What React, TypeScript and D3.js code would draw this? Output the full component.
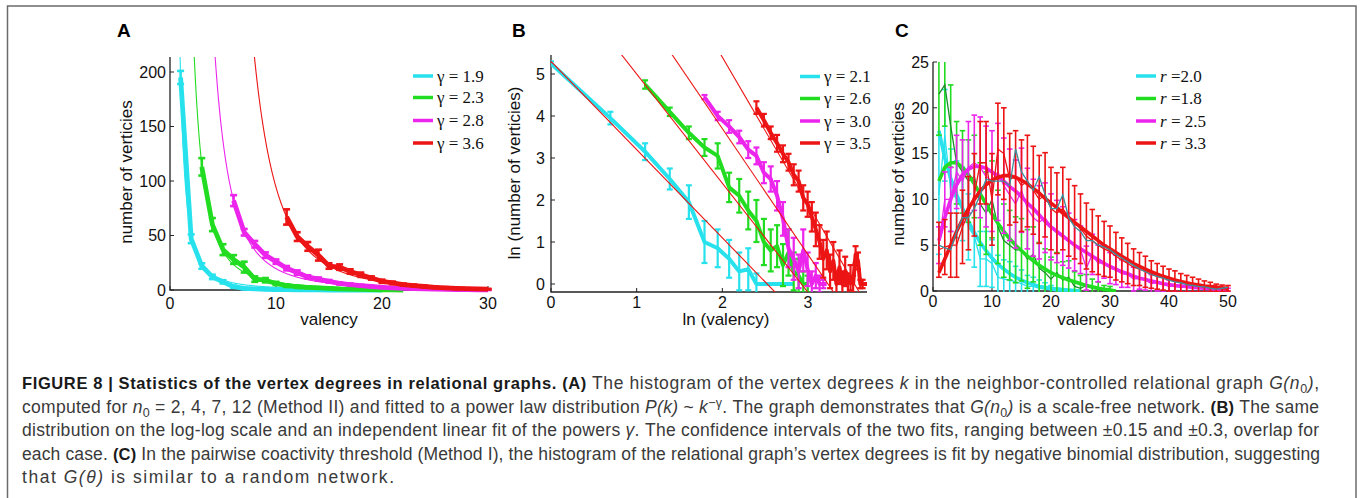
import React from "react";
import * as d3 from "d3";

// colours of the four series (MATLAB c, g, m, r)
const COLORS = ["#27e2ec", "#22dc22", "#ec25ec", "#ec1414"];
const DARK_GREEN = "#1e8c2a";
const TEAL = "#3b8f9c";

// ---------- panel A : histogram of vertex degrees ----------
const aGamma = [1.9, 2.3, 2.8, 3.6];
const aFitAmp = [195, 1437, 12366, 375400];
const aStart = [1, 3, 6, 11];
const aCyan = [195, 47, 22, 12, 7.5, 3, 1.5, 1, 0.6, 0.4, 0.3, 0.2, 0.1, 0.1, 0, 0, 0, 0, 0, 0];
const aCyanErr = [6, 4, 2.5, 2, 1.5, 1, 0.8, 0.5, 0.4, 0.3, 0.2, 0.2, 0.1, 0.1, 0, 0, 0, 0, 0, 0];
const aGreen = [113, 60, 37, 28, 21, 10, 9, 6, 4, 3, 2.5, 2, 1.5, 1, 0.8, 0.5, 0.3, 0.2, 0.1, 0];
const aGreenErr = [8, 6, 5, 4, 5, 2.5, 2, 1.5, 1.2, 1, 0.8, 0.6, 0.5, 0.4, 0.3, 0.2, 0.2, 0.1, 0.1, 0];
const aMagenta = [82, 53, 42, 32, 26, 20, 16, 12, 10, 8, 6, 5, 4, 3.2, 2.5, 2, 1.6, 1.2, 1, 0.8, 0.6, 0.4, 0.3, 0.2, 0.1];
const aMagentaErr = [5, 3, 3, 2.5, 2, 2, 2, 1.5, 1.5, 1.2, 1, 1, 0.8, 0.6, 0.5, 0.4, 0.4, 0.3, 0.3, 0.2, 0.2, 0.1, 0.1, 0.1, 0.1];
const aRed = [67, 49, 40, 32, 22, 21, 17, 14, 11, 8, 6.5, 5, 4, 3.2, 2.5, 2, 1.5, 1.2, 1, 0.8];
const aRedErr = [7, 4, 4, 5, 2.5, 2.5, 2, 2, 1.5, 1.5, 1.2, 1, 1, 0.8, 0.7, 0.6, 0.5, 0.4, 0.3, 0.3];
const aLegend = ["1.9", "2.3", "2.8", "3.6"];

// ---------- panel B : log-log ----------
const bGamma = [2.1, 2.6, 3.0, 3.5];
const bIntercept = [5.3, 7.6, 9.7, 12.4];
const bStart = [1, 3, 6, 11];
const bCyan = [5.25, 3.95, 3.15, 2.5, 1.95, 1.0, 0.85, 0.6, 0.3, 0.35, 0, 0, 0, 0, 0, 0, 0];
const bCyanErr = [0.05, 0.15, 0.2, 0.25, 0.4, 0.5, 0.45, 0.45, 0.45, 0.5, 0.25, 0, 0, 0, 0, 0, 0];
const bGreen = [4.75, 4.1, 3.6, 3.25, 3.05, 2.3, 2.1, 1.75, 1.5, 1.0, 0.8, 0.9, 0.45, 0.75, 0.3, 0.2, 0, 0];
const bGreenErr = [0.1, 0.1, 0.15, 0.2, 0.3, 0.35, 0.4, 0.45, 0.5, 0.55, 0.5, 0.5, 0.5, 0.55, 0.45, 0.4, 0.3, 0.2];
const bMagenta = [4.45, 4.0, 3.75, 3.5, 3.2, 3.05, 2.65, 2.5, 2.1, 1.55, 0.85, 0.6, 0.3, 0.8, 0.35, 0, 0.2, 0, 0, 0];
const bMagentaErr = [0.05, 0.1, 0.15, 0.15, 0.2, 0.2, 0.25, 0.3, 0.35, 0.4, 0.45, 0.5, 0.4, 0.5, 0.4, 0.3, 0.3, 0.2, 0.1, 0];
const bRed = [4.2, 3.9, 3.6, 3.35, 3.1, 2.9, 2.6, 2.45, 2.05, 1.9, 1.6, 1.3, 1.0, 0.6, 0.8, 0.3, 0.55, 0, 0.4, 0, 0.3, 0, 0.15, 0, 0.7, 0.55, 0, 0, 0, 0];
const bRedErr = [0.15, 0.15, 0.15, 0.2, 0.2, 0.2, 0.25, 0.25, 0.3, 0.3, 0.35, 0.4, 0.4, 0.45, 0.45, 0.4, 0.45, 0.3, 0.4, 0.3, 0.35, 0.25, 0.3, 0.2, 0.2, 0.2, 0.1, 0.1, 0, 0];
const bLegend = ["2.1", "2.6", "3.0", "3.5"];

// ---------- panel C : pairwise coactivity threshold ----------
const cCyanFit = [17.5, 14.5, 12.3, 10.5, 9.0, 7.6, 6.4, 5.3, 4.4, 3.6, 2.9, 2.4, 1.9, 1.5, 1.2, 0.9, 0.7, 0.5, 0.4, 0.3, 0.2, 0.15, 0.1, 0.05, 0];
const cCyan = [10.5, 17, 11, 10, 9.5, 7, 6, 3.5, 3.5, 3, 1.5, 1.3, 1.2, 1.0, 0.8, 0.5, 0.5, 0.3, 0.2, 0.1, 0, 0, 0, 0, 0];
const cCyanErr = [6.5, 5, 4.5, 4.2, 4, 3.6, 3.4, 3, 3, 2.6, 2.4, 2.1, 2, 1.7, 1.5, 1.2, 1, 0.9, 0.7, 0.5, 0.3, 0.2, 0.1, 0, 0];
const cGreenFit = [12, 13.5, 14, 14, 13.5, 12.7, 11.7, 10.6, 9.5, 8.4, 7.4, 6.5, 5.7, 5.0, 4.4, 3.8, 3.3, 2.8, 2.4, 2.0, 1.7, 1.45, 1.2, 1.0, 0.8, 0.6, 0.45, 0.3, 0.2, 0.1, 0];
const cGreen = [21.5, 22.5, 18, 14, 13, 12, 12.5, 9.5, 8.5, 10, 7, 5.5, 5, 4.5, 4.5, 3.5, 4, 2.5, 2, 1.3, 2, 1.2, 1.5, 0.5, 0.3, 0.6, 0.3, 0.2, 0, 0, 0];
const cGreenErr = [4.5, 4.5, 4.5, 4.5, 4.5, 4.5, 4.5, 4.5, 4.5, 4.2, 4, 4, 3.8, 3.6, 3.4, 3.2, 3, 2.8, 2.6, 2.4, 2.2, 2, 1.8, 1.6, 1.4, 1.2, 1.0, 0.8, 0.6, 0.5, 0];
const cMagentaFit = [5.5, 8, 10, 11.6, 12.7, 13.3, 13.6, 13.6, 13.4, 13.0, 12.5, 12.0, 11.4, 10.9, 10.3, 9.6, 9.0, 8.3, 7.6, 7.0, 6.5, 6.0, 5.5, 5.0, 4.6, 4.2, 3.8, 3.4, 3.0, 2.7, 2.4, 2.1, 1.9, 1.6, 1.4, 1.25, 1.1, 0.95, 0.8, 0.7, 0.6, 0.55, 0.5, 0.4, 0.35, 0.3, 0.25, 0.2, 0.18, 0.15];
const cMagenta = [5, 10, 10, 13, 12, 13.5, 14, 13.5, 12.5, 12, 13, 11.5, 10.5, 9.5, 11, 9, 8, 7.5, 8, 7, 6.5, 6, 5.5, 5, 4.5, 2.5, 4, 3, 3.2, 2.5, 2.3, 1.9, 1.8, 1.3, 1.4, 1.2, 0.8, 0.9, 0.7, 0.5, 0.5, 0.4, 0.4, 0.3, 0.3, 0.2, 0.2, 0.15, 0.1, 0.1];
const cMagentaErr = [2, 3, 3.5, 4, 4.5, 5, 5.2, 5.5, 5.5, 5.5, 5.3, 5.2, 5, 4.8, 4.6, 4.4, 4.2, 4, 3.8, 3.6, 3.4, 3.2, 3, 2.8, 2.6, 2.4, 2.2, 2, 1.8, 1.7, 1.6, 1.5, 1.4, 1.3, 1.2, 1.1, 1, 0.9, 0.8, 0.7, 0.6, 0.55, 0.5, 0.45, 0.4, 0.35, 0.3, 0.25, 0.2, 0.2];
const cRedFit = [2, 3.5, 5, 6.5, 7.8, 9, 10, 10.9, 11.6, 12.1, 12.4, 12.6, 12.6, 12.4, 12.1, 11.7, 11.2, 10.7, 10.1, 9.6, 9.1, 8.5, 8.0, 7.5, 7.0, 6.5, 6.0, 5.5, 5.0, 4.6, 4.2, 3.8, 3.4, 3.0, 2.7, 2.4, 2.1, 1.85, 1.6, 1.4, 1.2, 1.05, 0.9, 0.75, 0.65, 0.55, 0.48, 0.42, 0.36, 0.3];
const cRed = [4.5, 4.8, 5, 5, 7, 8.5, 10.5, 14, 14, 10, 15.5, 15, 12.2, 12.5, 11.5, 12, 11, 10, 10.5, 9, 8.5, 9, 8, 7.5, 6.8, 6, 5.5, 5, 4.6, 4.3, 3.8, 3.4, 3.0, 2.6, 2.4, 2.1, 1.8, 1.6, 1.4, 1.2, 1.1, 0.9, 0.8, 0.7, 0.6, 0.5, 0.45, 0.35, 0.3, 0.3];
const cRedErr = [3, 3, 3.5, 3.5, 4, 4, 4.5, 4.5, 4.5, 5, 5, 5, 5, 5, 5, 5, 4.8, 4.8, 4.6, 4.5, 4.4, 4.5, 4.2, 4, 3.8, 3.6, 3.4, 3.2, 3.0, 2.8, 2.6, 2.4, 2.2, 2, 1.8, 1.7, 1.5, 1.4, 1.3, 1.2, 1.1, 1.0, 0.9, 0.8, 0.7, 0.6, 0.5, 0.4, 0.35, 0.3];
const cTeal = [5, 4.7, 4.5, 6.5, 8, 8, 9, 10.5, 12.2, 12, 12, 12, 11.5, 15.5, 13, 12, 11, 12.5, 10.5, 9, 9, 10.5, 8, 7, 6.5, 5.5, 5.5, 5, 4.8, 4.5, 4.0, 3.6, 3.2, 2.8, 2.4, 2.1, 1.8, 1.6, 1.4, 1.2, 1.0, 0.9, 0.7, 0.6, 0.5, 0.45, 0.3, 0.2, 0.3, 0.4];
const cLegend = ["=2.0", "=1.8", "= 2.5", "= 3.3"];

const SANS = "'Liberation Sans', Arial, sans-serif";
const SERIF = "'Liberation Serif', 'Times New Roman', serif";

// scales
const ax = d3.scaleLinear().domain([0, 30]).range([170, 488]);
const ay = d3.scaleLinear().domain([0, 200]).range([290, 72]);
const bx = d3.scaleLinear().domain([0, 3]).range([551, 808]);
const by = d3.scaleLinear().domain([0, 5]).range([284, 74]);
const cx = d3.scaleLinear().domain([0, 50]).range([933, 1228]);
const cy = d3.scaleLinear().domain([0, 25]).range([291, 62]);

type Pt = [number, number];
const lineGen = (x: any, y: any) => d3.line<Pt>().x((d) => x(d[0])).y((d) => y(d[1]));

function ErrorBars({ pts, errs, x, y, color, width, cap }: any) {
  return (
    <g stroke={color} strokeWidth={width} fill="none">
      {pts.map((p: Pt, i: number) => {
        const e = errs[i];
        if (!e) return null;
        const px = x(p[0]);
        const y0 = y(p[1] - e);
        const y1 = y(p[1] + e);
        return (
          <g key={i}>
            <line x1={px} x2={px} y1={y0} y2={y1} />
            <line x1={px - cap} x2={px + cap} y1={y0} y2={y0} />
            <line x1={px - cap} x2={px + cap} y1={y1} y2={y1} />
          </g>
        );
      })}
    </g>
  );
}

function Axes({ x, y, x0, x1, y0, y1, xTicks, yTicks, xTickY, yTickDx, xLabel, xLabelPos, yLabel, yLabelPos }: any) {
  const axisX = x(x0);
  const axisY = y(y0);
  return (
    <g fontFamily={SANS} fill="#111">
      <path d={`M${axisX},${y(y1)}V${axisY}H${x(x1)}`} stroke="#222" strokeWidth={1.3} fill="none" />
      {yTicks.map((t: number) => (
        <g key={"y" + t}>
          <line x1={axisX} x2={axisX + 4} y1={y(t)} y2={y(t)} stroke="#222" strokeWidth={1} />
          <text x={axisX - yTickDx} y={y(t)} dy="0.36em" textAnchor="end" fontSize={16}>{t}</text>
        </g>
      ))}
      {xTicks.map((t: number) => (
        <g key={"x" + t}>
          <line x1={x(t)} x2={x(t)} y1={axisY} y2={axisY - 4} stroke="#222" strokeWidth={1} />
          <text x={x(t)} y={xTickY} textAnchor="middle" fontSize={16}>{t}</text>
        </g>
      ))}
      <text x={xLabelPos[0]} y={xLabelPos[1]} textAnchor="middle" fontSize={17}>{xLabel}</text>
      <text transform={`translate(${yLabelPos[0]},${yLabelPos[1]}) rotate(-90)`} textAnchor="middle" fontSize={17}>{yLabel}</text>
    </g>
  );
}

function Legend({ x, ys, labels, italicR }: any) {
  return (
    <g>
      {labels.map((l: string, i: number) => (
        <g key={i}>
          <line x1={x} x2={x + 20} y1={ys[i]} y2={ys[i]} stroke={COLORS[i]} strokeWidth={3.5} />
          <text x={x + 24} y={ys[i]} dy="0.33em" fontFamily={SERIF} fontSize={17} fill="#111">
            {italicR ? (
              <>
                <tspan fontStyle="italic">r</tspan> {l}
              </>
            ) : (
              `γ = ${l}`
            )}
          </text>
        </g>
      ))}
    </g>
  );
}

const toPts = (start: number, vals: number[]): Pt[] => vals.map((v, i) => [start + i, v]);
const toLogPts = (start: number, vals: number[]): Pt[] => vals.map((v, i) => [Math.log(start + i), v]);

function PanelA() {
  const line = lineGen(ax, ay);
  const data = [aCyan, aGreen, aMagenta, aRed];
  const errs = [aCyanErr, aGreenErr, aMagentaErr, aRedErr];
  const yTop = ay.invert(57);
  return (
    <g>
      <text x={117} y={37} fontFamily={SANS} fontWeight="bold" fontSize={19}>A</text>
      <Axes x={ax} y={ay} x0={0} x1={30} y0={0} y1={yTop} xTicks={[0, 10, 20, 30]} yTicks={[0, 50, 100, 150, 200]}
        xTickY={309} yTickDx={4} xLabel="valency" xLabelPos={[329, 325]} yLabel="number of verticies" yLabelPos={[132, 172]} />
      <g clipPath="url(#clipA)">
        {data.map((vals, s) => {
          const g = aGamma[s];
          const kMin = Math.pow(aFitAmp[s] / (yTop + 5), 1 / g);
          const fit: Pt[] = d3.range(kMin, 30.01, 0.05).map((k) => [k, aFitAmp[s] * Math.pow(k, -g)]);
          const pts = toPts(aStart[s], vals);
          return (
            <g key={s}>
              <path d={line(fit) || ""} stroke={COLORS[s]} strokeWidth={1.1} fill="none" />
              <path d={line(pts) || ""} stroke={COLORS[s]} strokeWidth={4.8} fill="none" strokeLinejoin="round" />
              <ErrorBars pts={pts} errs={errs[s]} x={ax} y={ay} color={COLORS[s]} width={2.6} cap={3.5} />
            </g>
          );
        })}
      </g>
      <Legend x={413} ys={[76, 97.5, 120.5, 143]} labels={aLegend} />
    </g>
  );
}

function PanelB() {
  const line = lineGen(bx, by);
  const data = [bCyan, bGreen, bMagenta, bRed];
  const errs = [bCyanErr, bGreenErr, bMagentaErr, bRedErr];
  const xMax = bx.invert(867);
  const yMin = by.invert(292);
  const yMax = by.invert(55);
  return (
    <g>
      <text x={512} y={37} fontFamily={SANS} fontWeight="bold" fontSize={19}>B</text>
      <Axes x={bx} y={by} x0={0} x1={xMax} y0={yMin} y1={yMax} xTicks={[0, 1, 2, 3]} yTicks={[0, 1, 2, 3, 4, 5]}
        xTickY={308} yTickDx={6} xLabel="ln (valency)" xLabelPos={[726, 325]} yLabel="ln (number of verticies)" yLabelPos={[520, 173]} />
      <g clipPath="url(#clipB)">
        {data.map((vals, s) => {
          const pts = toLogPts(bStart[s], vals);
          return (
            <g key={s}>
              <path d={line(pts) || ""} stroke={COLORS[s]} strokeWidth={4} fill="none" strokeLinejoin="round" />
              <ErrorBars pts={pts} errs={errs[s]} x={bx} y={by} color={COLORS[s]} width={2.2} cap={3} />
            </g>
          );
        })}
        {bGamma.map((g, s) => {
          const fit: Pt[] = [[0, bIntercept[s]], [xMax, bIntercept[s] - g * xMax]];
          return <path key={"f" + s} d={line(fit) || ""} stroke={COLORS[3]} strokeWidth={1.1} fill="none" />;
        })}
      </g>
      <Legend x={800} ys={[76.5, 98.5, 121, 143]} labels={bLegend} />
    </g>
  );
}

function PanelC() {
  const line = lineGen(cx, cy);
  const series = [
    { fit: cCyanFit, data: cCyan, err: cCyanErr, thin: COLORS[0] },
    { fit: cGreenFit, data: cGreen, err: cGreenErr, thin: DARK_GREEN },
    { fit: cMagentaFit, data: cMagenta, err: cMagentaErr, thin: COLORS[2] },
    { fit: cRedFit, data: cRed, err: cRedErr, thin: COLORS[3] },
  ];
  return (
    <g>
      <text x={895} y={37} fontFamily={SANS} fontWeight="bold" fontSize={19}>C</text>
      <Axes x={cx} y={cy} x0={0} x1={50} y0={0} y1={25} xTicks={[0, 10, 20, 30, 40, 50]} yTicks={[0, 5, 10, 15, 20, 25]}
        xTickY={307} yTickDx={4} xLabel="valency" xLabelPos={[1086, 325]} yLabel="number of verticies" yLabelPos={[904, 174]} />
      <g clipPath="url(#clipC)">
        {series.map((s, i) => {
          const pts = toPts(1, s.data);
          return (
            <g key={i}>
              <ErrorBars pts={pts} errs={s.err} x={cx} y={cy} color={COLORS[i]} width={1.6} cap={2.8} />
              <path d={line(pts) || ""} stroke={s.thin} strokeWidth={1.3} fill="none" />
              <path d={line(toPts(1, s.fit)) || ""} stroke={COLORS[i]} strokeWidth={3.6} fill="none" strokeLinejoin="round" />
            </g>
          );
        })}
        <path d={line(toPts(1, cTeal)) || ""} stroke={TEAL} strokeWidth={1.3} fill="none" />
      </g>
      <Legend x={1136} ys={[76, 98.5, 121, 143]} labels={cLegend} italicR />
    </g>
  );
}

type Seg = { t: string; b?: boolean; i?: boolean; sub?: boolean; sup?: boolean };
const CAPTION: Seg[][] = [
  [
    { t: "FIGURE 8 | Statistics of the vertex degrees in relational graphs. (A)", b: true },
    { t: " The histogram of the vertex degrees " }, { t: "k", i: true },
    { t: " in the neighbor-controlled relational graph " }, { t: "G(n", i: true }, { t: "0", sub: true }, { t: ")", i: true }, { t: "," },
  ],
  [
    { t: "computed for " }, { t: "n", i: true }, { t: "0", sub: true },
    { t: " = 2, 4, 7, 12 (Method II) and fitted to a power law distribution " }, { t: "P(k)", i: true }, { t: " ~ " },
    { t: "k", i: true }, { t: "−γ", sup: true }, { t: ". The graph demonstrates that " }, { t: "G(n", i: true }, { t: "0", sub: true },
    { t: ")", i: true }, { t: " is a scale-free network. " }, { t: "(B)", b: true }, { t: " The same" },
  ],
  [
    { t: "distribution on the log-log scale and an independent linear fit of the powers " }, { t: "γ", i: true },
    { t: ". The confidence intervals of the two fits, ranging between ±0.15 and ±0.3, overlap for" },
  ],
  [
    { t: "each case. " }, { t: "(C)", b: true },
    { t: " In the pairwise coactivity threshold (Method I), the histogram of the relational graph’s vertex degrees is fit by negative binomial distribution, suggesting" },
  ],
  [{ t: "that " }, { t: "G(θ)", i: true }, { t: " is similar to a random network." }],
];
const CAPTION_Y = [389, 412.5, 436, 459.5, 483];
const CAPTION_W = [1297, 1297, 1297, 1298, 372];

function Caption() {
  return (
    <g fontFamily={SANS} fontSize={17.5} fill="#3a3a3a">
      {CAPTION.map((segs, li) => {
        let shift = 0;
        return (
          <text key={li} x={22} y={CAPTION_Y[li]} textLength={CAPTION_W[li]} lengthAdjust="spacing">
            {segs.map((s, si) => {
              const target = s.sub ? 4 : s.sup ? -6 : 0;
              const dy = target - shift;
              shift = target;
              return (
                <tspan key={si} dy={dy || undefined} fontWeight={s.b ? "bold" : undefined} fill={s.b ? "#1a1a1a" : undefined}
                  fontStyle={s.i ? "italic" : undefined} fontSize={s.sub || s.sup ? 12.5 : s.b ? 16.5 : undefined}>
                  {s.t}
                </tspan>
              );
            })}
          </text>
        );
      })}
    </g>
  );
}

export default function App() {
  return (
    <svg width={1360} height={498} style={{ position: "absolute", left: 0, top: 0, background: "#fff" }}>
      <defs>
        <clipPath id="clipA"><rect x={170} y={57} width={322} height={236} /></clipPath>
        <clipPath id="clipB"><rect x={551} y={55} width={318} height={237} /></clipPath>
        <clipPath id="clipC"><rect x={933} y={62} width={300} height={230} /></clipPath>
      </defs>
      <rect x={0} y={0} width={1360} height={498} fill="#fff" />
      <rect x={7.5} y={6} width={1348.5} height={510} fill="none" stroke="#6b6b6b" strokeWidth={1.5} />
      <PanelA />
      <PanelB />
      <PanelC />
      <Caption />
    </svg>
  );
}
